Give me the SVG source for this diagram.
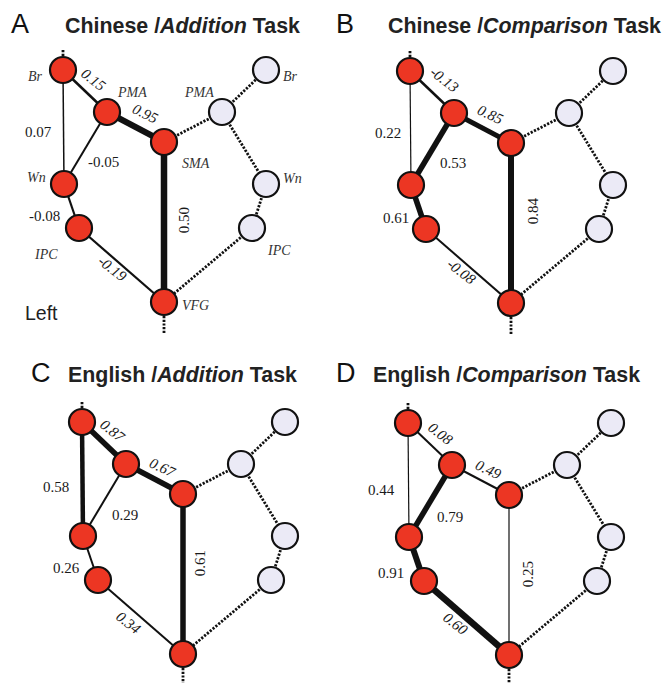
<svg xmlns="http://www.w3.org/2000/svg" width="668" height="683" viewBox="0 0 668 683">
<style>
.bg{fill:#ffffff}
.e{stroke:#111;stroke-linecap:butt;fill:none}
.d{stroke:#111;stroke-width:2.8;stroke-dasharray:2.2 1.5;fill:none}
.r{fill:#ec3623;stroke:#111;stroke-width:2.2}
.l{fill:#ebeaf6;stroke:#111;stroke-width:2.2}
.nm{font-family:"Liberation Serif","Times New Roman",serif;font-style:italic;font-size:14px;fill:#333}
.v{font-family:"Liberation Serif","Times New Roman",serif;font-size:15px;fill:#1a1a1a}
.vi{font-family:"Liberation Serif","Times New Roman",serif;font-style:italic;font-size:15px;fill:#1a1a1a;text-anchor:middle}
.vr{font-family:"Liberation Serif","Times New Roman",serif;font-size:15px;fill:#1a1a1a;text-anchor:middle}
.ttl{font-family:"Liberation Sans",Arial,sans-serif;font-weight:bold;font-size:21.4px;fill:#222}
.let{font-family:"Liberation Sans",Arial,sans-serif;font-size:27px;fill:#111}
.left{font-family:"Liberation Sans",Arial,sans-serif;font-size:19.5px;fill:#222}
</style>
<rect class="bg" x="0" y="0" width="668" height="683"/>

<!-- Panel A -->
<g id="panel-A">
  <text class="let" x="11" y="33">A</text>
  <text class="ttl" x="65" y="32.5">Chinese /<tspan font-style="italic">Addition</tspan> Task</text>
  <g id="A-connectors">
    <line class="d" x1="63" y1="50" x2="63" y2="57"/>
    <line class="d" x1="164" y1="316" x2="164" y2="333"/>
    <line class="e" x1="63" y1="70" x2="107" y2="112" stroke-width="2.5"/>
    <line class="e" x1="63" y1="70" x2="64" y2="184" stroke-width="1.5"/>
    <line class="e" x1="107" y1="112" x2="64" y2="184" stroke-width="2"/>
    <line class="e" x1="107" y1="112" x2="164" y2="142" stroke-width="6"/>
    <line class="e" x1="164" y1="142" x2="164" y2="302" stroke-width="6.5"/>
    <line class="e" x1="64" y1="184" x2="79" y2="228" stroke-width="2.2"/>
    <line class="e" x1="79" y1="228" x2="164" y2="302" stroke-width="2.2"/>
    <line class="d" x1="164" y1="142" x2="222" y2="112"/>
    <line class="d" x1="222" y1="112" x2="266" y2="70"/>
    <line class="d" x1="222" y1="112" x2="266" y2="184"/>
    <line class="d" x1="266" y1="184" x2="252" y2="228"/>
    <line class="d" x1="252" y1="228" x2="164" y2="302"/>
  </g>
  <g id="A-Br"><circle class="r" cx="63" cy="70" r="13"/><text class="nm" x="28" y="81">Br</text></g>
  <g id="A-PMA"><circle class="r" cx="107" cy="112" r="13"/><text class="nm" x="118" y="96.5">PMA</text></g>
  <g id="A-SMA"><circle class="r" cx="164" cy="142" r="13"/><text class="nm" x="182" y="167.5">SMA</text></g>
  <g id="A-Wn"><circle class="r" cx="64" cy="184" r="13"/><text class="nm" x="27" y="181.5">Wn</text></g>
  <g id="A-IPC"><circle class="r" cx="79" cy="228" r="13"/><text class="nm" x="35" y="259">IPC</text></g>
  <g id="A-VFG"><circle class="r" cx="164" cy="302" r="13"/><text class="nm" x="182" y="309.5">VFG</text></g>
  <g id="A-Br-R"><circle class="l" cx="266" cy="70" r="13"/><text class="nm" x="283" y="81">Br</text></g>
  <g id="A-PMA-R"><circle class="l" cx="222" cy="112" r="13"/><text class="nm" x="185" y="96.5">PMA</text></g>
  <g id="A-Wn-R"><circle class="l" cx="266" cy="184" r="13"/><text class="nm" x="283" y="182.5">Wn</text></g>
  <g id="A-IPC-R"><circle class="l" cx="252" cy="228" r="13"/><text class="nm" x="268" y="255">IPC</text></g>
  <text class="vi" transform="translate(93,80) rotate(38)" y="4.5">0.15</text>
  <text class="vi" transform="translate(145,114) rotate(26)" y="4.5">0.95</text>
  <text class="v" x="25" y="137">0.07</text>
  <text class="v" x="88" y="167">-0.05</text>
  <text class="v" x="29" y="221">-0.08</text>
  <text class="vi" transform="translate(112,269) rotate(38)" y="4.5">-0.19</text>
  <text class="vr" transform="translate(189,220) rotate(-90)">0.50</text>
  <text class="left" x="25" y="320">Left</text>
</g>

<!-- Panel B -->
<g id="panel-B">
  <text class="let" x="336" y="33">B</text>
  <text class="ttl" x="388" y="32.5">Chinese /<tspan font-style="italic">Comparison</tspan> Task</text>
  <g transform="translate(347,1)">
  <g id="B-connectors">
    <line class="d" x1="63" y1="50" x2="63" y2="57"/>
    <line class="d" x1="164" y1="316" x2="164" y2="333"/>
    <line class="e" x1="63" y1="70" x2="107" y2="112" stroke-width="2.5"/>
    <line class="e" x1="63" y1="70" x2="64" y2="184" stroke-width="1.2"/>
    <line class="e" x1="107" y1="112" x2="64" y2="184" stroke-width="5.5"/>
    <line class="e" x1="107" y1="112" x2="164" y2="142" stroke-width="5"/>
    <line class="e" x1="164" y1="142" x2="164" y2="302" stroke-width="6"/>
    <line class="e" x1="64" y1="184" x2="79" y2="228" stroke-width="5.5"/>
    <line class="e" x1="79" y1="228" x2="164" y2="302" stroke-width="2"/>
    <line class="d" x1="164" y1="142" x2="222" y2="112"/>
    <line class="d" x1="222" y1="112" x2="266" y2="70"/>
    <line class="d" x1="222" y1="112" x2="266" y2="184"/>
    <line class="d" x1="266" y1="184" x2="252" y2="228"/>
    <line class="d" x1="252" y1="228" x2="164" y2="302"/>
  </g>
  <g id="B-Br"><circle class="r" cx="63" cy="70" r="13"/></g>
  <g id="B-PMA"><circle class="r" cx="107" cy="112" r="13"/></g>
  <g id="B-SMA"><circle class="r" cx="164" cy="142" r="13"/></g>
  <g id="B-Wn"><circle class="r" cx="64" cy="184" r="13"/></g>
  <g id="B-IPC"><circle class="r" cx="79" cy="228" r="13"/></g>
  <g id="B-VFG"><circle class="r" cx="164" cy="302" r="13"/></g>
  <g id="B-Br-R"><circle class="l" cx="266" cy="70" r="13"/></g>
  <g id="B-PMA-R"><circle class="l" cx="222" cy="112" r="13"/></g>
  <g id="B-Wn-R"><circle class="l" cx="266" cy="184" r="13"/></g>
  <g id="B-IPC-R"><circle class="l" cx="252" cy="228" r="13"/></g>
  <text class="vi" transform="translate(97,79) rotate(38)" y="4.5">-0.13</text>
  <text class="vi" transform="translate(143,114) rotate(25)" y="4.5">0.85</text>
  <text class="v" x="28" y="137">0.22</text>
  <text class="v" x="93" y="167">0.53</text>
  <text class="v" x="36" y="222">0.61</text>
  <text class="vi" transform="translate(114,271) rotate(38)" y="4.5">-0.08</text>
  <text class="vr" transform="translate(191,210) rotate(-90)">0.84</text>
  </g>
</g>

<!-- Panel C -->
<g id="panel-C">
  <text class="let" x="31" y="382">C</text>
  <text class="ttl" x="68" y="382">English /<tspan font-style="italic">Addition</tspan> Task</text>
  <g transform="translate(19,352)">
  <g id="C-connectors">
    <line class="d" x1="63" y1="50" x2="63" y2="57"/>
    <line class="d" x1="164" y1="316" x2="164" y2="333"/>
    <line class="e" x1="63" y1="70" x2="107" y2="112" stroke-width="5.5"/>
    <line class="e" x1="63" y1="70" x2="64" y2="184" stroke-width="4.5"/>
    <line class="e" x1="107" y1="112" x2="64" y2="184" stroke-width="2"/>
    <line class="e" x1="107" y1="112" x2="164" y2="142" stroke-width="5.5"/>
    <line class="e" x1="164" y1="142" x2="164" y2="302" stroke-width="5.5"/>
    <line class="e" x1="64" y1="184" x2="79" y2="228" stroke-width="2"/>
    <line class="e" x1="79" y1="228" x2="164" y2="302" stroke-width="2"/>
    <line class="d" x1="164" y1="142" x2="222" y2="112"/>
    <line class="d" x1="222" y1="112" x2="266" y2="70"/>
    <line class="d" x1="222" y1="112" x2="266" y2="184"/>
    <line class="d" x1="266" y1="184" x2="252" y2="228"/>
    <line class="d" x1="252" y1="228" x2="164" y2="302"/>
  </g>
  <g id="C-Br"><circle class="r" cx="63" cy="70" r="13"/></g>
  <g id="C-PMA"><circle class="r" cx="107" cy="112" r="13"/></g>
  <g id="C-SMA"><circle class="r" cx="164" cy="142" r="13"/></g>
  <g id="C-Wn"><circle class="r" cx="64" cy="184" r="13"/></g>
  <g id="C-IPC"><circle class="r" cx="79" cy="228" r="13"/></g>
  <g id="C-VFG"><circle class="r" cx="164" cy="302" r="13"/></g>
  <g id="C-Br-R"><circle class="l" cx="266" cy="70" r="13"/></g>
  <g id="C-PMA-R"><circle class="l" cx="222" cy="112" r="13"/></g>
  <g id="C-Wn-R"><circle class="l" cx="266" cy="184" r="13"/></g>
  <g id="C-IPC-R"><circle class="l" cx="252" cy="228" r="13"/></g>
  <text class="vi" transform="translate(93,79) rotate(38)" y="4.5">0.87</text>
  <text class="vi" transform="translate(143,116) rotate(25)" y="4.5">0.67</text>
  <text class="v" x="24" y="140">0.58</text>
  <text class="v" x="93" y="168">0.29</text>
  <text class="v" x="34" y="221">0.26</text>
  <text class="vi" transform="translate(109,271) rotate(38)" y="4.5">0.34</text>
  <text class="vr" transform="translate(186,211) rotate(-90)">0.61</text>
  </g>
</g>

<!-- Panel D -->
<g id="panel-D">
  <text class="let" x="336" y="382">D</text>
  <text class="ttl" x="373" y="382">English /<tspan font-style="italic">Comparison</tspan> Task</text>
  <g transform="translate(345,353)">
  <g id="D-connectors">
    <line class="d" x1="63" y1="50" x2="63" y2="57"/>
    <line class="d" x1="164" y1="316" x2="164" y2="333"/>
    <line class="e" x1="63" y1="70" x2="107" y2="112" stroke-width="2"/>
    <line class="e" x1="63" y1="70" x2="64" y2="184" stroke-width="1.2"/>
    <line class="e" x1="107" y1="112" x2="64" y2="184" stroke-width="5.5"/>
    <line class="e" x1="107" y1="112" x2="164" y2="142" stroke-width="2"/>
    <line class="e" x1="164" y1="142" x2="164" y2="302" stroke-width="1.2"/>
    <line class="e" x1="64" y1="184" x2="79" y2="228" stroke-width="6"/>
    <line class="e" x1="79" y1="228" x2="164" y2="302" stroke-width="6.5"/>
    <line class="d" x1="164" y1="142" x2="222" y2="112"/>
    <line class="d" x1="222" y1="112" x2="266" y2="70"/>
    <line class="d" x1="222" y1="112" x2="266" y2="184"/>
    <line class="d" x1="266" y1="184" x2="252" y2="228"/>
    <line class="d" x1="252" y1="228" x2="164" y2="302"/>
  </g>
  <g id="D-Br"><circle class="r" cx="63" cy="70" r="13"/></g>
  <g id="D-PMA"><circle class="r" cx="107" cy="112" r="13"/></g>
  <g id="D-SMA"><circle class="r" cx="164" cy="142" r="13"/></g>
  <g id="D-Wn"><circle class="r" cx="64" cy="184" r="13"/></g>
  <g id="D-IPC"><circle class="r" cx="79" cy="228" r="13"/></g>
  <g id="D-VFG"><circle class="r" cx="164" cy="302" r="13"/></g>
  <g id="D-Br-R"><circle class="l" cx="266" cy="70" r="13"/></g>
  <g id="D-PMA-R"><circle class="l" cx="222" cy="112" r="13"/></g>
  <g id="D-Wn-R"><circle class="l" cx="266" cy="184" r="13"/></g>
  <g id="D-IPC-R"><circle class="l" cx="252" cy="228" r="13"/></g>
  <text class="vi" transform="translate(95,81) rotate(38)" y="4.5">0.08</text>
  <text class="vi" transform="translate(143,117) rotate(25)" y="4.5">0.49</text>
  <text class="v" x="23" y="142">0.44</text>
  <text class="v" x="92" y="169">0.79</text>
  <text class="v" x="33" y="225">0.91</text>
  <text class="vi" transform="translate(110,271) rotate(38)" y="4.5">0.60</text>
  <text class="vr" transform="translate(188,221) rotate(-90)">0.25</text>
  </g>
</g>
</svg>
